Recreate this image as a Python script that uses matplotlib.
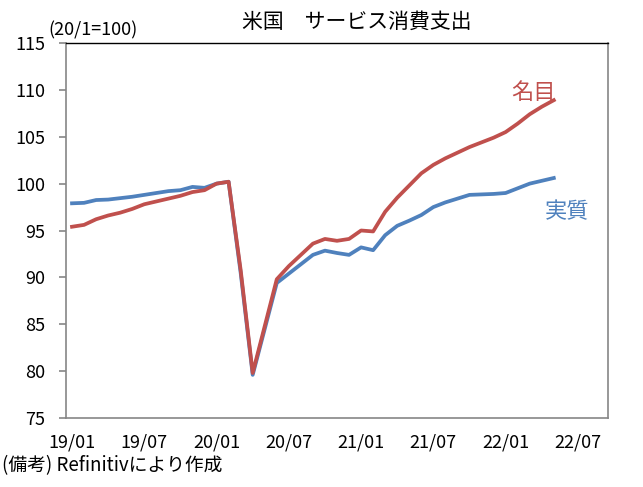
import matplotlib.pyplot as plt

plt.rcParams['font.family'] = ['Noto Sans CJK JP', 'DejaVu Sans']

# 2019/01 - 2022/05, monthly (20/1 = 100)
nominal = [95.4, 95.6, 96.2, 96.6, 96.9, 97.3, 97.8, 98.1, 98.4, 98.7, 99.1, 99.3,
           100.0, 100.2, 90.8, 79.8, 84.8, 89.8, 91.2, 92.4, 93.6, 94.1, 93.9, 94.1,
           95.0, 94.9, 97.0, 98.5, 99.8, 101.1, 102.0, 102.7, 103.3, 103.9, 104.4, 104.9,
           105.5, 106.4, 107.4, 108.2, 108.9]
real = [97.9, 97.95, 98.25, 98.3, 98.45, 98.6, 98.8, 99.0, 99.2, 99.3, 99.65, 99.55,
        100.0, 100.2, 90.5, 79.6, 84.5, 89.4, 90.4, 91.4, 92.4, 92.85, 92.6, 92.4,
        93.2, 92.9, 94.5, 95.5, 96.05, 96.65, 97.5, 98.0, 98.4, 98.8, 98.85, 98.9,
        99.0, 99.5, 100.0, 100.3, 100.6]
tick_labels = ['19/01', '19/07', '20/01', '20/07', '21/01', '21/07', '22/01', '22/07']
n_months = 45  # axis runs 19/01 .. 22/09

red = '#C0504D'
blue = '#4F81BD'
gray = '#868686'

fig = plt.figure(figsize=(6.43, 4.87), dpi=100)
ax = fig.add_axes([66 / 643, 1 - 418 / 487, 542 / 643, 375 / 487])

x = list(range(len(nominal)))
ax.plot(x, real, color=blue, lw=2.7, solid_joinstyle='round')
ax.plot(x, nominal, color=red, lw=2.7, solid_joinstyle='round')

ax.set_xlim(-0.5, n_months - 0.5)
ax.set_ylim(75, 115)
ax.set_yticks(range(75, 116, 5))
ax.set_xticks(range(0, 6 * len(tick_labels), 6))
ax.set_xticklabels(tick_labels)

for s in ax.spines.values():
    s.set_color(gray)
    s.set_linewidth(1.2)
ax.spines['top'].set_color('black')
ax.spines['top'].set_linewidth(1.0)
ax.tick_params(axis='y', direction='out', length=5, width=1.2, color=gray,
               labelsize=13, pad=10)
ax.tick_params(axis='x', length=0, labelsize=13, pad=11)

fig.text(0.555, 1 - 22 / 487, '米国\u3000サービス消費支出', ha='center', va='center', fontsize=15)
fig.text(48 / 643, 1 - 30 / 487, '(20/1=100)', ha='left', va='center', fontsize=13)
ax.text(38.3, 109.7, '名目', color=red, ha='center', va='center', fontsize=16)
ax.text(41.1, 97.0, '実質', color=blue, ha='center', va='center', fontsize=16)
fig.text(2 / 643, 1 - 466 / 487, '(備考) Refinitivにより作成', ha='left', va='center', fontsize=13.5)

fig.savefig('out.png', dpi=100)
